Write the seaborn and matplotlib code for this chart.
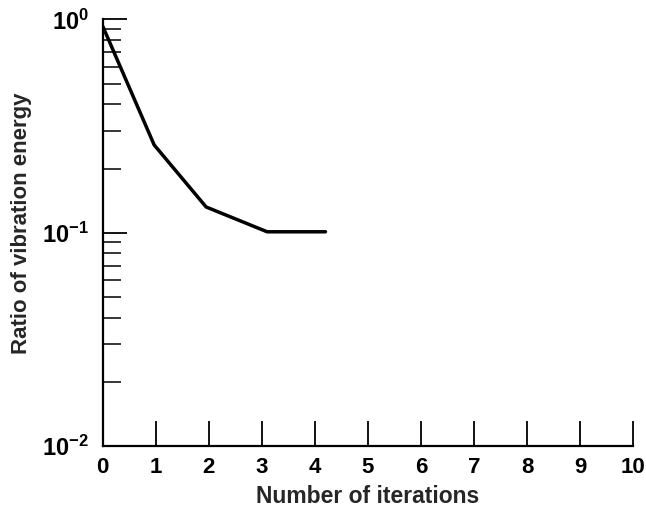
import numpy as np
import pandas as pd
import matplotlib
matplotlib.use("Agg")
import matplotlib.pyplot as plt
import seaborn as sns
from matplotlib.ticker import LogLocator, FixedLocator, NullFormatter

# values
iterations = [0.0, 0.97, 1.95, 3.1, 4.2]
energy_ratio = [0.93, 0.258, 0.132, 0.101, 0.101]
x_ticks = list(range(0, 11))
y_ticks = [1e-2, 1e-1, 1e0]
y_tick_labels = [r"$\mathbf{10^{-2}}$", r"$\mathbf{10^{-1}}$", r"$\mathbf{10^{0}}$"]

df = pd.DataFrame({"Number of iterations": iterations,
                   "Ratio of vibration energy": energy_ratio})

sns.set_style("ticks")
plt.rcParams["font.family"] = ["Liberation Sans", "DejaVu Sans"]
plt.rcParams["font.weight"] = "bold"
plt.rcParams["mathtext.fontset"] = "custom"
plt.rcParams["mathtext.bf"] = "Liberation Sans:bold"
plt.rcParams["mathtext.rm"] = "Liberation Sans:bold"

fig = plt.figure(figsize=(6.46, 5.12), dpi=100)
ax = fig.add_axes([0.159, 0.129, 0.821, 0.833])

sns.lineplot(data=df, x="Number of iterations", y="Ratio of vibration energy",
             ax=ax, color="black", linewidth=2.5, estimator=None, sort=False)

ax.set_yscale("log")
ax.set_xlim(0, 10)
ax.set_ylim(1e-2, 1e0)

ax.xaxis.set_major_locator(FixedLocator(x_ticks))
ax.set_xticklabels([str(t) for t in x_ticks])
ax.yaxis.set_major_locator(FixedLocator(y_ticks))
ax.set_yticklabels(y_tick_labels)
ax.yaxis.set_minor_locator(LogLocator(base=10, subs=np.arange(2, 10)))
ax.yaxis.set_minor_formatter(NullFormatter())

ax.tick_params(axis="x", direction="in", length=18, width=1.3, pad=8,
               labelsize=16, colors="black")
ax.tick_params(axis="y", which="major", direction="in", length=17, width=1.3,
               pad=10, labelsize=17, colors="black")
ax.tick_params(axis="y", which="minor", direction="in", length=13, width=1.3)

for side in ["top", "right"]:
    ax.spines[side].set_visible(False)
for side in ["left", "bottom"]:
    ax.spines[side].set_linewidth(1.6)
    ax.spines[side].set_color("black")

ax.set_xlabel("Number of iterations", fontsize=16.5, fontweight="bold", labelpad=5)
ax.set_ylabel("Ratio of vibration energy", fontsize=16, fontweight="bold")
ax.yaxis.set_label_coords(-0.133, 0.522)

fig.savefig("out.png", dpi=100)
